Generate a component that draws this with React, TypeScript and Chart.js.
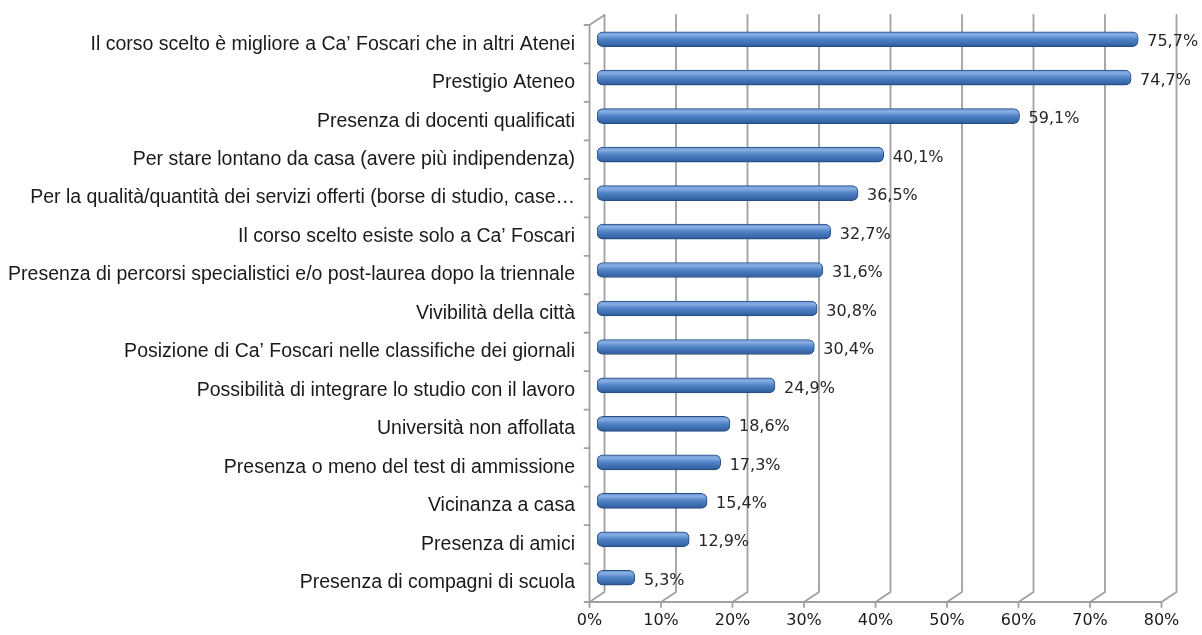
import { useEffect, useRef } from 'react';
import { Chart, registerables } from 'chart.js';

Chart.register(...registerables);

const categories: string[] = [
  'Il corso scelto è migliore a Ca’ Foscari che in altri Atenei',
  'Prestigio Ateneo',
  'Presenza di docenti qualificati',
  'Per stare lontano da casa (avere più indipendenza)',
  'Per la qualità/quantità dei servizi offerti (borse di studio, case…',
  'Il corso scelto esiste solo a Ca’ Foscari',
  'Presenza di percorsi specialistici e/o post-laurea dopo la triennale',
  'Vivibilità della città',
  'Posizione di Ca’ Foscari nelle classifiche dei giornali',
  'Possibilità di integrare lo studio con il lavoro',
  'Università non affollata',
  'Presenza o meno del test di ammissione',
  'Vicinanza a casa',
  'Presenza di amici',
  'Presenza di compagni di scuola',
];

const values: number[] = [75.7, 74.7, 59.1, 40.1, 36.5, 32.7, 31.6, 30.8, 30.4, 24.9, 18.6, 17.3, 15.4, 12.9, 5.3];

const xTickValues: number[] = [0, 10, 20, 30, 40, 50, 60, 70, 80];

const DX = 7.5;
const DY = 5;

export default function App() {
  const ref = useRef<HTMLCanvasElement | null>(null);

  useEffect(() => {
    if (!ref.current) return;

    const frame3d = {
      id: 'frame3d',
      beforeDatasetsDraw(chart: any) {
        const { ctx, chartArea } = chart;
        const xs = chart.scales.x;
        const ys = chart.scales.y;
        const top = chartArea.top;
        const bottom = chartArea.bottom;
        ctx.save();
        ctx.strokeStyle = '#a0a0a0';
        ctx.lineWidth = 1.8;
        ctx.lineCap = 'round';
        ctx.lineJoin = 'round';
        xTickValues.forEach((v) => {
          const mx = xs.getPixelForValue(v);
          ctx.beginPath();
          ctx.moveTo(mx + DX, top - DY);
          ctx.lineTo(mx + DX, bottom - DY);
          ctx.lineTo(mx - DX, bottom + DY);
          ctx.lineTo(mx - DX, bottom + DY + 5);
          ctx.stroke();
        });
        const x0 = xs.getPixelForValue(xTickValues[0]);
        const x1 = xs.getPixelForValue(xTickValues[xTickValues.length - 1]);
        ctx.beginPath();
        ctx.moveTo(x0 - DX, bottom + DY);
        ctx.lineTo(x1 - DX, bottom + DY);
        ctx.stroke();
        ctx.beginPath();
        ctx.moveTo(x0 + DX, top - DY);
        ctx.lineTo(x0 - DX, top + DY);
        ctx.lineTo(x0 - DX, bottom + DY);
        ctx.stroke();
        for (let i = 0; i <= categories.length; i++) {
          const yb = ys.getPixelForValue(i - 0.5) + DY;
          ctx.beginPath();
          ctx.moveTo(x0 - DX - 5, yb);
          ctx.lineTo(x0 - DX, yb);
          ctx.stroke();
        }
        ctx.restore();
      },
    };

    const valueLabels = {
      id: 'valueLabels',
      afterDatasetsDraw(chart: any) {
        const { ctx } = chart;
        const xs = chart.scales.x;
        const ys = chart.scales.y;
        ctx.save();
        ctx.font = '16px "DejaVu Sans", Verdana, sans-serif';
        ctx.fillStyle = '#262626';
        ctx.textAlign = 'left';
        ctx.textBaseline = 'middle';
        values.forEach((v, i) => {
          const x = xs.getPixelForValue(v) + 9;
          const y = ys.getPixelForValue(i) + 3;
          ctx.fillText(v.toFixed(1).replace('.', ',') + '%', x, y);
        });
        ctx.restore();
      },
    };

    const chart = new Chart(ref.current, {
      type: 'bar',
      data: {
        labels: categories,
        datasets: [
          {
            data: values,
            backgroundColor: (c: any) => {
              const ch = c.chart;
              const ys = ch.scales && ch.scales.y;
              if (!ys || c.dataIndex === undefined) return '#4f81bd';
              const yc = ys.getPixelForValue(c.dataIndex);
              if (!Number.isFinite(yc)) return '#4f81bd';
              const g = ch.ctx.createLinearGradient(0, yc - 7.5, 0, yc + 7.5);
              g.addColorStop(0, '#6a96d3');
              g.addColorStop(0.2, '#88aee4');
              g.addColorStop(0.5, '#4f82c5');
              g.addColorStop(0.85, '#3968aa');
              g.addColorStop(1, '#2a558f');
              return g;
            },
            borderColor: '#264d82',
            borderWidth: 1,
            borderRadius: 6,
            borderSkipped: false,
            barThickness: 15,
          },
        ],
      },
      options: {
        indexAxis: 'y',
        animation: false,
        responsive: true,
        maintainAspectRatio: false,
        layout: { padding: { top: 20, right: 33, left: 0, bottom: 0 } },
        plugins: {
          legend: { display: false },
          tooltip: { enabled: false },
        },
        scales: {
          x: {
            type: 'linear',
            position: 'bottom',
            min: 0,
            max: 80,
            afterFit: (s: any) => {
              s.height = 38;
              s.paddingLeft = 0;
              s.paddingRight = 0;
            },
            grid: { display: false, drawTicks: false },
            border: { display: false },
            ticks: {
              stepSize: 10,
              autoSkip: false,
              maxRotation: 0,
              padding: 14,
              labelOffset: -7.5,
              color: '#1a1a1a',
              font: { family: '"DejaVu Sans", Verdana, sans-serif', size: 16 },
              callback: (v: any) => v + '%',
            },
          },
          y: {
            type: 'category',
            position: 'left',
            afterFit: (s: any) => {
              s.width = 597;
              s.paddingTop = 0;
              s.paddingBottom = 0;
            },
            grid: { display: false, drawTicks: false },
            border: { display: false },
            ticks: {
              autoSkip: false,
              padding: 22,
              labelOffset: 5,
              color: '#1a1a1a',
              font: { family: '"Liberation Sans", Arial, sans-serif', size: 19.5 },
            },
          },
        },
      },
      plugins: [frame3d, valueLabels],
    } as any);

    return () => chart.destroy();
  }, []);

  return (
    <div style={{ position: 'absolute', left: 0, top: 0, width: 1202, height: 635 }}>
      <canvas ref={ref} />
    </div>
  );
}
